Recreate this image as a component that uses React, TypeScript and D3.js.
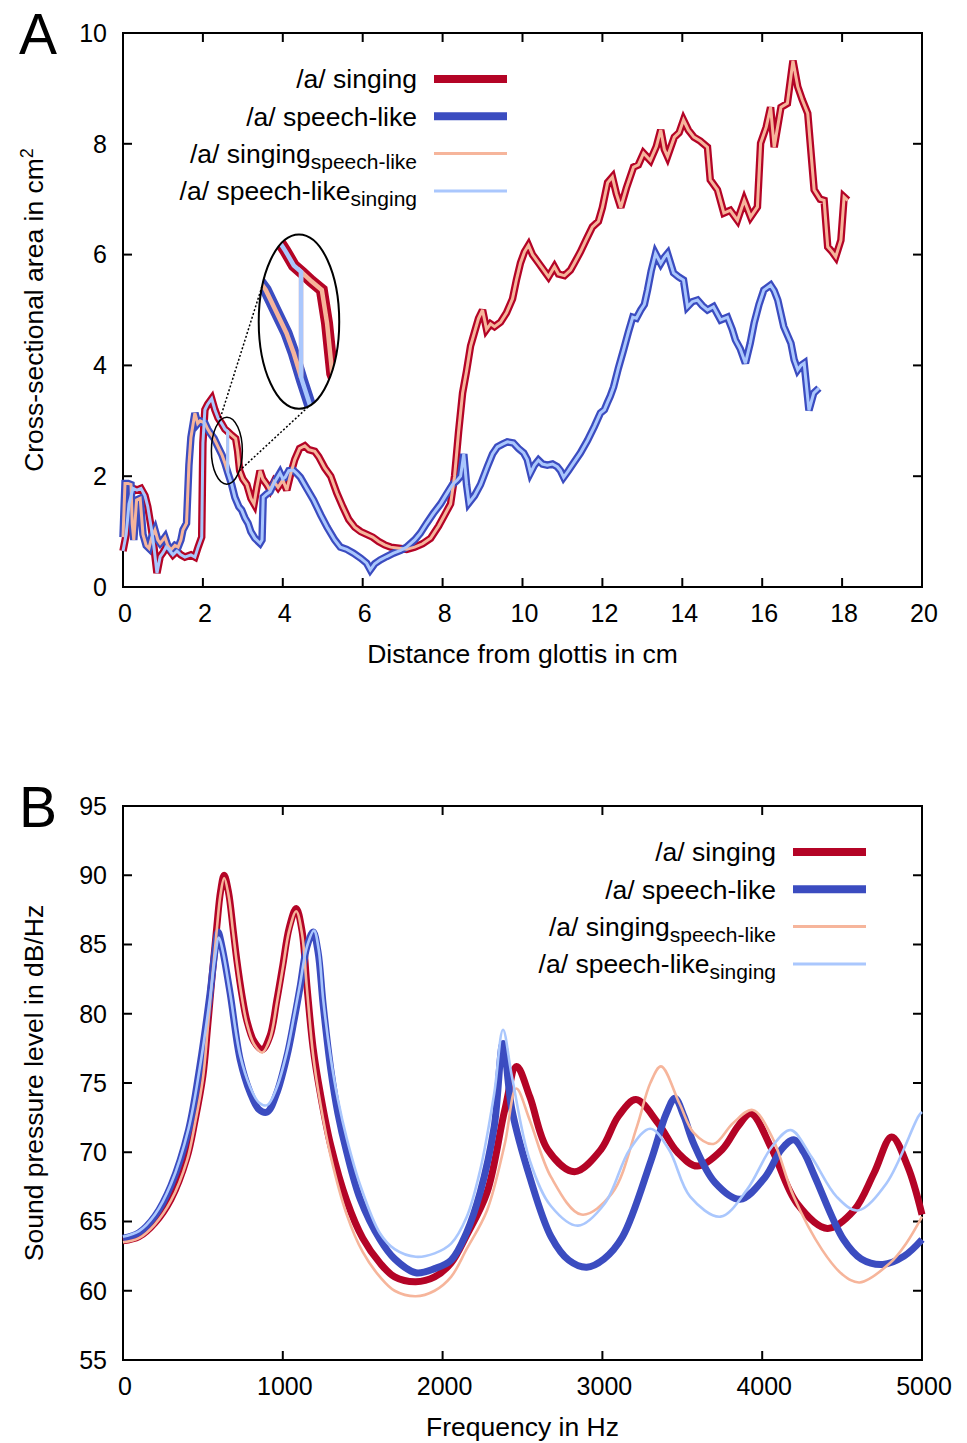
import React from "react";
import * as d3 from "d3";

type Pt = [number, number];

// ---------- Panel A: cross-sectional area (cm^2) vs distance from glottis (cm)
const singingArea: Pt[] = [
  [0, 0.65], [0.08, 0.95], [0.15, 1.5], [0.25, 1.78], [0.35, 1.75], [0.45, 1.78],
  [0.55, 1.65], [0.62, 1.45], [0.7, 1.1], [0.77, 0.75], [0.85, 0.25], [0.93, 0.55],
  [1.0, 0.62], [1.08, 0.72], [1.15, 0.68], [1.25, 0.58], [1.35, 0.65], [1.45, 0.58],
  [1.55, 0.54], [1.7, 0.58], [1.8, 0.54], [1.88, 0.72], [1.97, 0.9], [2.0, 2.6],
  [2.05, 3.2], [2.12, 3.3], [2.22, 3.4], [2.3, 3.2], [2.38, 3.05], [2.47, 2.95],
  [2.55, 2.85], [2.63, 2.8], [2.72, 2.74], [2.82, 2.68], [2.87, 2.45], [2.92, 2.1],
  [3.0, 1.95], [3.1, 1.85], [3.2, 1.6], [3.28, 1.5], [3.35, 1.8], [3.43, 2.1],
  [3.5, 1.95], [3.6, 1.85], [3.68, 1.75], [3.78, 1.9], [3.88, 1.8], [4.0, 1.93],
  [4.1, 1.75], [4.2, 2.05], [4.3, 2.3], [4.42, 2.5], [4.55, 2.55], [4.65, 2.48],
  [4.8, 2.45], [4.9, 2.35], [5.05, 2.15], [5.2, 2.0], [5.35, 1.7], [5.5, 1.45],
  [5.65, 1.22], [5.8, 1.08], [5.95, 1.0], [6.1, 0.95], [6.25, 0.9], [6.4, 0.82],
  [6.55, 0.76], [6.7, 0.72], [6.9, 0.7], [7.1, 0.68], [7.3, 0.72], [7.5, 0.78],
  [7.7, 0.88], [7.9, 1.1], [8.05, 1.3], [8.2, 1.5], [8.3, 2.0], [8.4, 2.8],
  [8.5, 3.5], [8.6, 3.9], [8.7, 4.35], [8.8, 4.6], [8.9, 4.85], [9.0, 5.0],
  [9.1, 4.65], [9.2, 4.75], [9.3, 4.7], [9.45, 4.78], [9.6, 4.95], [9.75, 5.2],
  [9.85, 5.55], [9.95, 5.85], [10.05, 6.05], [10.15, 6.17], [10.25, 6.0], [10.4, 5.85],
  [10.55, 5.7], [10.65, 5.6], [10.8, 5.78], [10.9, 5.65], [11.05, 5.62], [11.2, 5.72],
  [11.3, 5.85], [11.45, 6.05], [11.6, 6.28], [11.75, 6.5], [11.9, 6.6], [12.0, 6.85],
  [12.13, 7.3], [12.25, 7.4], [12.35, 7.1], [12.46, 6.85], [12.6, 7.2], [12.78, 7.58],
  [12.9, 7.62], [13.03, 7.83], [13.2, 7.7], [13.35, 7.95], [13.46, 8.25], [13.55, 7.9],
  [13.63, 7.77], [13.8, 8.12], [13.92, 8.2], [14.03, 8.43], [14.15, 8.25], [14.29, 8.12],
  [14.45, 8.05], [14.63, 7.94], [14.7, 7.35], [14.88, 7.17], [15.04, 6.75], [15.2, 6.8],
  [15.38, 6.62], [15.55, 6.98], [15.71, 6.68], [15.88, 6.86], [15.96, 8.01], [16.1, 8.3],
  [16.21, 8.66], [16.3, 7.94], [16.47, 8.66], [16.63, 8.73], [16.77, 9.5], [16.89, 9.03],
  [17.0, 8.8], [17.14, 8.55], [17.3, 7.17], [17.45, 7.0], [17.55, 6.98], [17.64, 6.14],
  [17.75, 6.05], [17.84, 5.96], [17.97, 6.26], [18.05, 7.04], [18.14, 6.98],
];

const speechArea: Pt[] = [
  [0, 0.9], [0.05, 1.87], [0.13, 1.87], [0.2, 1.85], [0.23, 1.15], [0.27, 0.85],
  [0.34, 1.57], [0.43, 1.6], [0.5, 0.95], [0.58, 0.75], [0.65, 0.7], [0.72, 0.9],
  [0.8, 1.03], [0.87, 0.85], [0.93, 0.79], [1.0, 0.85], [1.05, 0.9], [1.12, 0.75],
  [1.2, 0.67], [1.3, 0.75], [1.38, 0.72], [1.45, 0.85], [1.5, 1.03], [1.59, 1.15],
  [1.65, 2.2], [1.7, 2.7], [1.8, 3.14], [1.87, 2.95], [1.93, 3.0], [2.05, 2.96],
  [2.12, 2.85], [2.18, 2.78], [2.28, 2.68], [2.38, 2.53], [2.48, 2.38], [2.55, 2.24],
  [2.63, 2.05], [2.72, 1.85], [2.8, 1.62], [2.9, 1.45], [2.97, 1.39], [3.05, 1.25],
  [3.13, 1.15], [3.2, 1.0], [3.3, 0.88], [3.43, 0.79], [3.48, 0.85], [3.51, 1.62],
  [3.6, 1.68], [3.68, 1.72], [3.8, 1.9], [3.93, 2.06], [4.0, 1.95], [4.06, 1.98],
  [4.15, 2.1], [4.26, 2.11], [4.35, 2.05], [4.44, 1.98], [4.6, 1.78], [4.77, 1.57],
  [4.95, 1.3], [5.11, 1.08], [5.3, 0.85], [5.44, 0.72], [5.6, 0.68], [5.77, 0.61],
  [5.95, 0.52], [6.1, 0.43], [6.19, 0.31], [6.3, 0.42], [6.44, 0.49], [6.6, 0.55],
  [6.77, 0.61], [6.95, 0.66], [7.1, 0.72], [7.3, 0.85], [7.44, 0.97], [7.6, 1.15],
  [7.77, 1.33], [7.95, 1.5], [8.11, 1.69], [8.25, 1.85], [8.37, 1.93], [8.45, 2.0],
  [8.53, 2.4], [8.6, 1.85], [8.66, 1.52], [8.8, 1.65], [8.95, 1.85], [9.12, 2.17],
  [9.25, 2.4], [9.37, 2.53], [9.5, 2.58], [9.62, 2.62], [9.77, 2.6], [9.9, 2.5],
  [10.03, 2.42], [10.12, 2.3], [10.2, 2.06], [10.3, 2.2], [10.4, 2.29], [10.5, 2.22],
  [10.62, 2.2], [10.75, 2.22], [10.87, 2.17], [10.95, 2.1], [11.03, 1.98], [11.15, 2.1],
  [11.28, 2.24], [11.45, 2.42], [11.63, 2.65], [11.8, 2.9], [11.95, 3.14], [12.05, 3.2],
  [12.12, 3.32], [12.2, 3.45], [12.28, 3.61], [12.4, 3.95], [12.53, 4.28], [12.65, 4.6],
  [12.76, 4.87], [12.85, 4.85], [12.96, 5.0], [13.05, 5.1], [13.13, 5.36], [13.22, 5.7],
  [13.33, 6.02], [13.46, 5.84], [13.55, 5.95], [13.63, 6.02], [13.78, 5.67], [13.9, 5.6],
  [14.03, 5.54], [14.13, 5.06], [14.25, 5.15], [14.38, 5.18], [14.5, 5.08], [14.63, 5.0],
  [14.78, 5.06], [14.96, 4.82], [15.13, 4.87], [15.25, 4.65], [15.33, 4.46], [15.45, 4.3],
  [15.58, 4.04], [15.7, 4.4], [15.8, 4.77], [15.92, 5.1], [16.04, 5.36], [16.21, 5.45],
  [16.3, 5.35], [16.39, 5.18], [16.54, 4.7], [16.72, 4.4], [16.8, 4.1], [16.89, 3.92],
  [16.97, 4.0], [17.05, 4.04], [17.17, 3.19], [17.29, 3.5], [17.42, 3.59],
];

// the two "swapped" configurations exchange the front part at this distance
const SWAP_AT = 2.62;

// ---------- Panel B: sound pressure level (dB/Hz) vs frequency (Hz)
const singingSpl: Pt[] = [
  [0, 63.6], [100, 63.9], [200, 64.9], [300, 66.6], [400, 69.6], [451, 72.3],
  [500, 75.5], [530, 79.1], [560, 83], [587, 86.3], [610, 88.8], [633, 90.0],
  [660, 88.8], [690, 86], [712, 83.9], [745, 81.3], [775, 79.5], [820, 78.0],
  [871, 77.4], [920, 78.4], [963, 81.0], [1000, 83.5], [1040, 86.2], [1084, 87.6],
  [1120, 86], [1151, 82], [1190, 77.5], [1234, 74.3], [1300, 70.5], [1400, 66.5],
  [1500, 63.8], [1608, 62.0], [1700, 61.0], [1832, 60.65], [1950, 61.0], [2053, 62.0],
  [2150, 64.0], [2278, 67.1], [2389, 73.05], [2463, 76.2], [2546, 74.0], [2657, 70.2],
  [2825, 68.6], [2991, 70.2], [3100, 72.6], [3210, 73.8], [3348, 72.1], [3470, 70.0],
  [3594, 69.0], [3750, 70.2], [3850, 71.9], [3929, 72.8], [4061, 70.2], [4218, 66.3],
  [4408, 64.5], [4574, 65.8], [4700, 68.5], [4810, 71.1], [4911, 68.96], [5000, 65.5],
];

const speechSpl: Pt[] = [
  [0, 63.8], [100, 64.2], [200, 65.4], [300, 67.6], [410, 71.6], [482, 76.3],
  [545, 81.5], [575, 84.5], [595, 85.9], [620, 84.8], [670, 81.5], [733, 76.7],
  [796, 74.3], [850, 73.1], [902, 72.9], [960, 74.2], [1025, 76.9], [1070, 79.5],
  [1109, 82.0], [1150, 84.8], [1190, 85.9], [1220, 84.5], [1253, 80.6], [1300, 76.0],
  [1345, 72.8], [1400, 70.0], [1485, 66.6], [1608, 63.7], [1700, 62.3], [1832, 61.3],
  [1950, 61.6], [2053, 62.2], [2150, 64.2], [2235, 67.1], [2323, 71.85], [2378, 77.85],
  [2434, 73.05], [2546, 68.2], [2679, 63.9], [2790, 62.2], [2902, 61.7], [3010, 62.3],
  [3126, 63.9], [3304, 69.4], [3400, 72.8], [3454, 73.9], [3510, 72.6], [3572, 70.6],
  [3705, 67.8], [3861, 66.6], [4018, 68.2], [4120, 70.2], [4197, 70.9], [4260, 70.0],
  [4331, 68.2], [4509, 63.7], [4620, 62.3], [4755, 61.9], [4888, 62.5], [5000, 63.7],
];

const singingSpeechSpl: Pt[] = [
  [0, 63.5], [100, 63.8], [200, 64.8], [300, 66.5], [400, 69.4], [451, 72.1],
  [500, 75.3], [530, 78.9], [560, 82.8], [587, 86.1], [610, 88.6], [633, 89.8],
  [660, 88.6], [690, 85.8], [712, 83.7], [745, 81.1], [775, 79.3], [820, 77.8],
  [871, 77.2], [920, 78.2], [963, 80.8], [1000, 83.3], [1040, 86.0], [1084, 87.4],
  [1120, 85.8], [1151, 81.8], [1190, 77.0], [1234, 73.6], [1300, 69.7], [1400, 65.5],
  [1500, 62.8], [1608, 61.0], [1700, 60.0], [1832, 59.6], [1950, 60.0], [2053, 61.0],
  [2150, 63.0], [2278, 65.8], [2389, 70.6], [2461, 74.6], [2546, 72.3], [2679, 68.2],
  [2869, 65.5], [3061, 67.05], [3216, 71.85], [3300, 75.0], [3367, 76.2], [3483, 73.5],
  [3572, 71.4], [3695, 70.6], [3817, 72.1], [3940, 73.05], [4062, 71.1], [4197, 66.8],
  [4375, 62.95], [4500, 61.2], [4610, 60.6], [4800, 62.0], [4900, 63.4], [5000, 65.35],
];

const speechSingingSpl: Pt[] = [
  [0, 63.9], [100, 64.3], [200, 65.5], [300, 67.7], [410, 71.7], [482, 76.2],
  [545, 81.2], [575, 84.0], [600, 85.5], [625, 84.5], [670, 81.5], [733, 77.0],
  [796, 74.7], [850, 73.6], [902, 73.4], [960, 74.6], [1025, 77.2], [1070, 79.8],
  [1109, 82.2], [1150, 84.8], [1195, 86.0], [1225, 84.6], [1253, 81.0], [1300, 76.8],
  [1345, 73.8], [1400, 71.0], [1485, 67.6], [1608, 64.15], [1700, 63.0], [1832, 62.45],
  [1950, 62.7], [2053, 63.4], [2150, 65.3], [2235, 68.7], [2323, 74.25], [2378, 78.85],
  [2434, 75.45], [2546, 69.4], [2679, 66.1], [2847, 64.7], [3015, 66.3], [3171, 70.2],
  [3300, 71.7], [3416, 70.2], [3549, 66.8], [3739, 65.35], [3905, 67.3], [4061, 70.4],
  [4179, 71.6], [4309, 69.65], [4465, 66.8], [4598, 65.8], [4777, 67.75], [4978, 72.6],
  [5000, 72.9],
];

// ---------- ticks and labels
const areaXTicks = [0, 2, 4, 6, 8, 10, 12, 14, 16, 18, 20];
const areaYTicks = [0, 2, 4, 6, 8, 10];
const splXTicks = [0, 1000, 2000, 3000, 4000, 5000];
const splYTicks = [55, 60, 65, 70, 75, 80, 85, 90, 95];

const legendMain = ["/a/ singing", "/a/ speech-like", "/a/ singing", "/a/ speech-like"];
const legendSub = ["", "", "speech-like", "singing"];

const RED = "#b40426";
const BLUE = "#3b4cc0";
const SALMON = "#f6b59b";
const LIGHTBLUE = "#aac7fd";
const seriesColor = [RED, BLUE, SALMON, LIGHTBLUE];
const seriesThick = [true, true, false, false];

const FONT = "'Liberation Sans', Arial, Helvetica, sans-serif";

// ---------- helpers
const valueAt = (pts: Pt[], x: number) => {
  const i = pts.findIndex((p) => p[0] >= x);
  const a = pts[i - 1];
  const b = pts[i];
  return a[1] + ((b[1] - a[1]) * (x - a[0])) / (b[0] - a[0]);
};

// front part of one tract joined to the back part of the other
const splice = (front: Pt[], back: Pt[], x: number): Pt[] => [
  ...front.filter((p) => p[0] < x),
  [x, valueAt(front, x)],
  [x, valueAt(back, x)],
  ...back.filter((p) => p[0] > x),
];

const singingSpeechArea = splice(speechArea, singingArea, SWAP_AT);
const speechSingingArea = splice(singingArea, speechArea, SWAP_AT);

type Scale = d3.ScaleLinear<number, number>;

const Frame = ({
  x, y, xTicks, yTicks, xTitle, yTitle, letter,
}: {
  x: Scale; y: Scale; xTicks: number[]; yTicks: number[];
  xTitle: string; yTitle: React.ReactNode; letter: string;
}) => {
  const [x0, x1] = x.range();
  const [y0, y1] = y.range(); // y0 = bottom, y1 = top
  const tick = 9;
  return (
    <g fontFamily={FONT} fill="#000">
      <rect x={x0} y={y1} width={x1 - x0} height={y0 - y1} fill="none" stroke="#000" strokeWidth={2} />
      {xTicks.map((t) => (
        <g key={"x" + t}>
          <line x1={x(t)} x2={x(t)} y1={y0} y2={y0 - tick} stroke="#000" strokeWidth={2} />
          <line x1={x(t)} x2={x(t)} y1={y1} y2={y1 + tick} stroke="#000" strokeWidth={2} />
          <text x={x(t) + 2} y={y0 + 35} textAnchor="middle" fontSize={25}>{t}</text>
        </g>
      ))}
      {yTicks.map((t) => (
        <g key={"y" + t}>
          <line x1={x0} x2={x0 + tick} y1={y(t)} y2={y(t)} stroke="#000" strokeWidth={2} />
          <line x1={x1} x2={x1 - tick} y1={y(t)} y2={y(t)} stroke="#000" strokeWidth={2} />
          <text x={x0 - 16} y={y(t)} dy="0.35em" textAnchor="end" fontSize={25}>{t}</text>
        </g>
      ))}
      <text x={(x0 + x1) / 2} y={y0 + 76} textAnchor="middle" fontSize={26.5}>{xTitle}</text>
      <text
        transform={`translate(43,${(y0 + y1) / 2}) rotate(-90)`}
        textAnchor="middle"
        fontSize={26.5}
      >
        {yTitle}
      </text>
      <text x={19} y={y1 + 21} fontSize={57}>{letter}</text>
    </g>
  );
};

const Legend = ({ right, top, step }: { right: number; top: number; step: number }) => (
  <g fontFamily={FONT}>
    {legendMain.map((m, i) => {
      const cy = top + i * step;
      return (
        <g key={i}>
          <text x={right} y={cy} dy="0.35em" textAnchor="end" fontSize={26.5}>
            {m}
            {legendSub[i] && (
              <tspan fontSize={21} dy={6}>{legendSub[i]}</tspan>
            )}
          </text>
          <line
            x1={right + 17}
            x2={right + 90}
            y1={cy}
            y2={cy}
            stroke={seriesColor[i]}
            strokeWidth={seriesThick[i] ? 8 : 3}
          />
        </g>
      );
    })}
  </g>
);

export default function App() {
  const xA = d3.scaleLinear().domain([0, 20]).range([123, 922]);
  const yA = d3.scaleLinear().domain([0, 10]).range([587, 33]);
  const xB = d3.scaleLinear().domain([0, 5000]).range([123, 922]);
  const yB = d3.scaleLinear().domain([55, 95]).range([1360, 806]);

  const lineA = d3.line<Pt>().x((d) => xA(d[0])).y((d) => yA(d[1]));
  const lineB = d3
    .line<Pt>()
    .x((d) => xB(d[0]))
    .y((d) => yB(d[1]))
    .curve(d3.curveCatmullRom.alpha(0.5));

  const areaSeries = [singingArea, speechArea, singingSpeechArea, speechSingingArea];
  const splSeries = [singingSpl, speechSpl, singingSpeechSpl, speechSingingSpl];

  // magnifier: small ellipse around the swap point, enlarged copy above it
  const lens = { cx: 2.6, cy: 2.46, rx: 0.3875, ry: 0.605, tx: 4.405, ty: 4.79, mag: 2.6 };
  const scx = xA(lens.cx);
  const scy = yA(lens.cy);
  const srx = xA(lens.rx) - xA(0);
  const sry = yA(0) - yA(lens.ry);
  const bcx = xA(lens.tx);
  const bcy = yA(lens.ty);
  const brx = srx * lens.mag;
  const bry = sry * lens.mag;
  const magnify = (pts: Pt[]): Pt[] =>
    pts
      .filter((p) => Math.abs(p[0] - lens.cx) < 1.2)
      .map((p) => [lens.tx + (p[0] - lens.cx) * lens.mag, lens.ty + (p[1] - lens.cy) * lens.mag]);
  const onEllipse = (cx: number, cy: number, rx: number, ry: number, deg: number) => {
    const a = (deg * Math.PI) / 180;
    return [cx + rx * Math.cos(a), cy + ry * Math.sin(a)];
  };
  const connectors = [
    [onEllipse(scx, scy, srx, sry, -120), onEllipse(bcx, bcy, brx, bry, -155)],
    [onEllipse(scx, scy, srx, sry, 37), onEllipse(bcx, bcy, brx, bry, 75)],
  ];

  return (
    <div style={{ position: "absolute", left: 0, top: 0 }}>
      <svg width={967} height={1443} style={{ display: "block", background: "#fff" }}>
        <defs>
          <clipPath id="lens-clip">
            <ellipse cx={bcx} cy={bcy} rx={brx} ry={bry} />
          </clipPath>
        </defs>

        {/* Panel A */}
        <Frame
          x={xA}
          y={yA}
          xTicks={areaXTicks}
          yTicks={areaYTicks}
          xTitle="Distance from glottis in cm"
          yTitle={
            <>
              Cross-sectional area in cm
              <tspan fontSize={18} dy={-10}>2</tspan>
            </>
          }
          letter="A"
        />
        <g fill="none" strokeLinejoin="miter" strokeMiterlimit={3}>
          {areaSeries.map((s, i) => (
            <path key={i} d={lineA(s) || ""} stroke={seriesColor[i]} strokeWidth={seriesThick[i] ? 7.5 : 3} />
          ))}
        </g>
        <g clipPath="url(#lens-clip)" fill="none" strokeLinejoin="miter" strokeMiterlimit={3}>
          <ellipse cx={bcx} cy={bcy} rx={brx} ry={bry} fill="#fff" />
          {areaSeries.map((s, i) => (
            <path key={i} d={lineA(magnify(s)) || ""} stroke={seriesColor[i]} strokeWidth={seriesThick[i] ? 12 : 4.5} />
          ))}
        </g>
        <ellipse cx={bcx} cy={bcy} rx={brx} ry={bry} fill="none" stroke="#000" strokeWidth={2} />
        <ellipse cx={scx} cy={scy} rx={srx} ry={sry} fill="none" stroke="#000" strokeWidth={1.5} />
        {connectors.map(([a, b], i) => (
          <line key={i} x1={a[0]} y1={a[1]} x2={b[0]} y2={b[1]} stroke="#000" strokeWidth={1.5} strokeDasharray="2,2" />
        ))}
        <Legend right={417} top={79} step={37.3} />

        {/* Panel B */}
        <Frame
          x={xB}
          y={yB}
          xTicks={splXTicks}
          yTicks={splYTicks}
          xTitle="Frequency in Hz"
          yTitle="Sound pressure level in dB/Hz"
          letter="B"
        />
        <g fill="none">
          {splSeries.map((s, i) => (
            <path key={i} d={lineB(s) || ""} stroke={seriesColor[i]} strokeWidth={seriesThick[i] ? 7 : 2.6} />
          ))}
        </g>
        <Legend right={776} top={852} step={37.3} />
      </svg>
    </div>
  );
}
